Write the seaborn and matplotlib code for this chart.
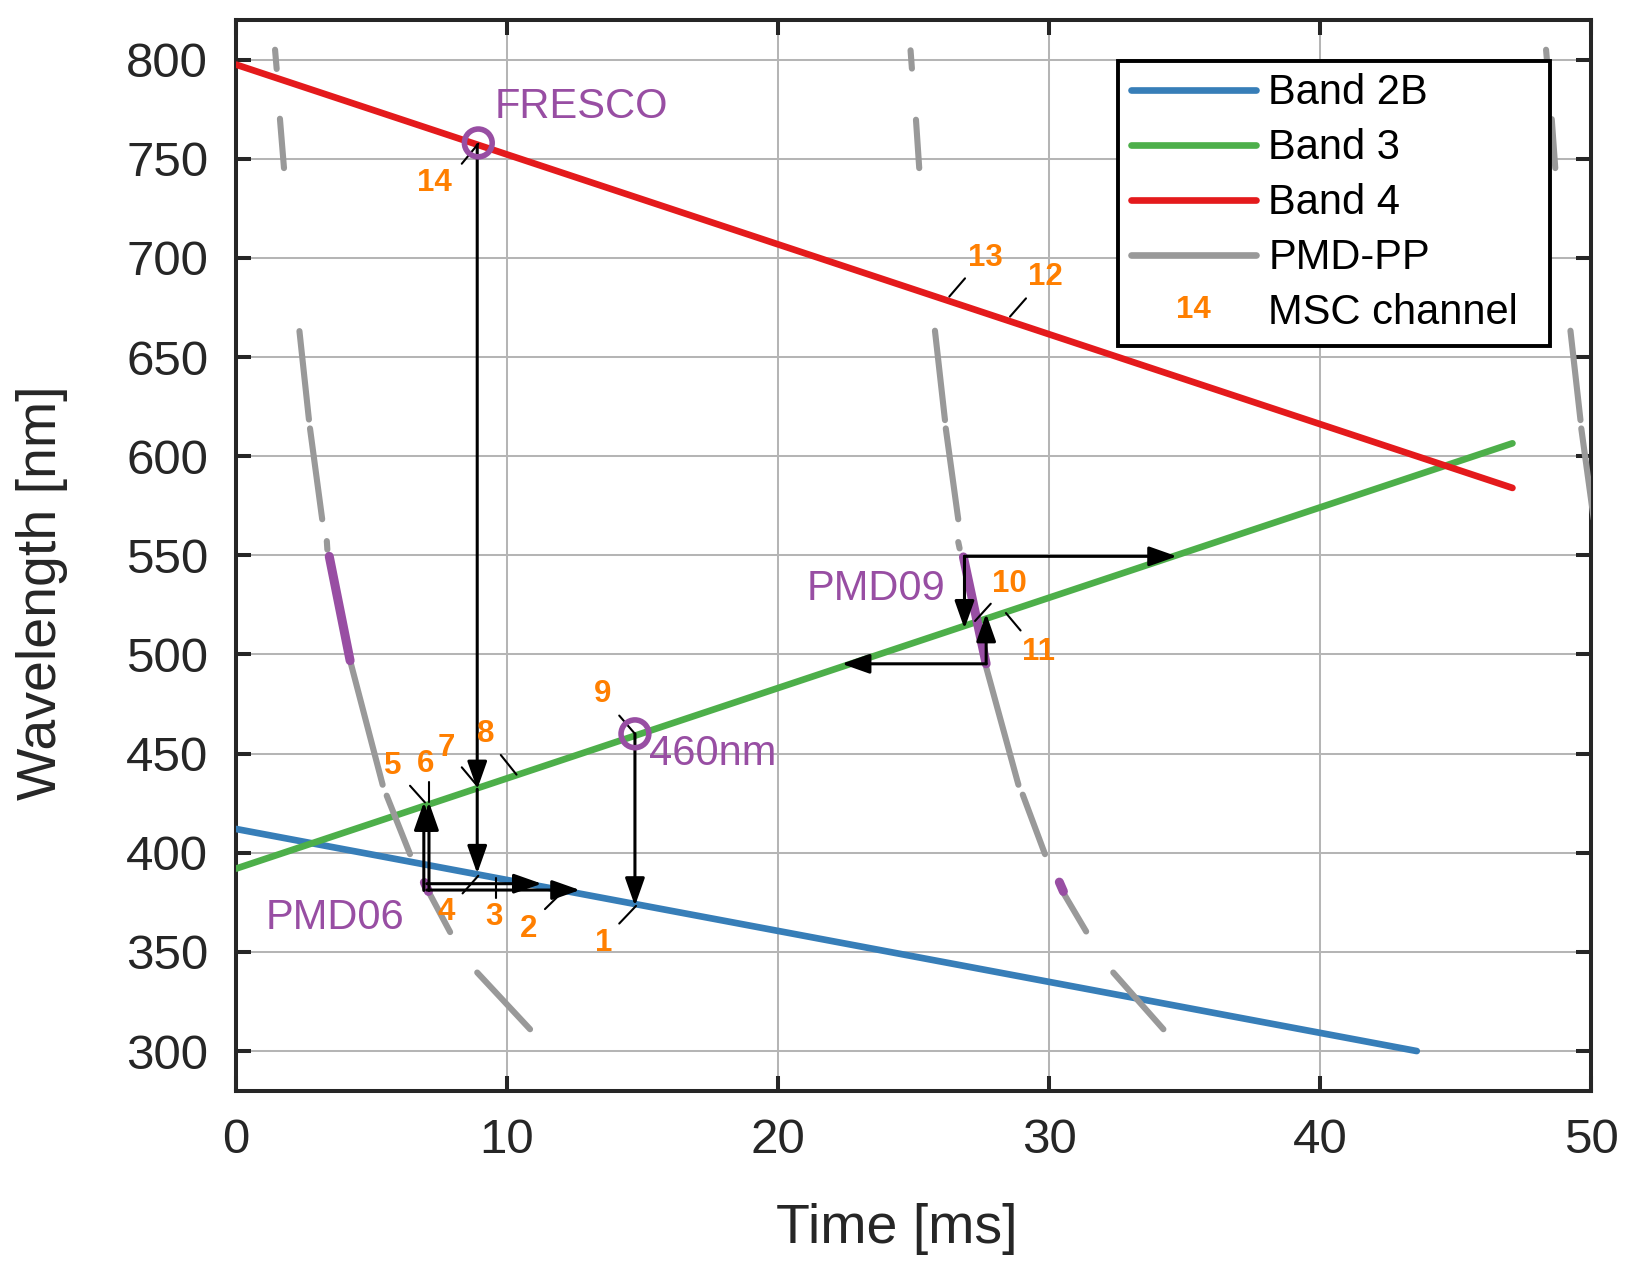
import numpy as np
import pandas as pd
import seaborn as sns
import matplotlib
matplotlib.use("Agg")
import matplotlib.pyplot as plt
from matplotlib.lines import Line2D
from matplotlib.legend_handler import HandlerBase
import matplotlib.text as mtext

# ---------------- data ----------------
band_names = ["Band 2B", "Band 3", "Band 4"]
band2b_time = [0.0, 43.57]
band2b_wl = [412.0, 300.0]
band3_time = [0.0, 47.1]
band3_wl = [392.0, 606.5]
band4_time = [0.0, 47.1]
band4_wl = [797.5, 584.0]

# PMD-PP readout segments (gray): (t0, wl0, t1, wl1)
pmd_segments = [
    (1.44, 805.0, 1.50, 795.3), (1.62, 770.2, 1.77, 745.3),
    (2.34, 663.1, 2.69, 618.5), (2.73, 614.0, 3.18, 568.2),
    (3.35, 557.2, 3.37, 552.9), (4.21, 496.9, 5.41, 434.3),
    (5.56, 428.8, 6.42, 399.3), (7.10, 380.5, 7.90, 360.0),
    (8.90, 339.6, 10.85, 311.0),
    (24.89, 804.7, 24.94, 795.5), (25.09, 769.7, 25.21, 745.3),
    (25.79, 663.3, 26.16, 618.2), (26.19, 614.0, 26.65, 568.2),
    (26.65, 556.7, 26.70, 553.5), (27.68, 493.6, 28.87, 434.3),
    (29.03, 429.3, 29.85, 399.3), (30.52, 380.0, 31.37, 360.3),
    (32.37, 339.6, 34.22, 311.0),
    (48.34, 805.0, 48.40, 795.5), (48.55, 770.0, 48.68, 745.3),
    (49.24, 663.3, 49.61, 618.2), (49.64, 614.0, 50.10, 568.2),
]
# PMD bands used (purple)
pmd_used_segments = [
    (3.44, 549.5, 4.21, 496.9), (6.95, 385.0, 7.10, 380.5),
    (26.84, 549.2, 27.68, 495.3), (30.38, 385.2, 30.53, 380.5),
]
circle_time = [8.94, 14.72]
circle_wl = [758.0, 460.0]

# arrows: (t_start, wl_start, t_tip, wl_tip)
arrows = [
    (8.90, 757.0, 8.90, 432.0), (8.90, 432.0, 8.90, 389.5),
    (14.72, 460.0, 14.72, 373.2),
    (6.93, 381.0, 6.93, 425.5), (7.12, 381.0, 7.12, 425.5),
    (7.04, 384.4, 11.28, 384.4), (7.04, 381.2, 12.69, 381.2),
    (26.88, 549.5, 34.72, 549.5), (26.88, 549.5, 26.88, 513.0),
    (27.68, 495.3, 27.68, 520.6), (27.68, 495.3, 22.35, 495.3),
]

# MSC channels: tick segment and label position
msc_channels = ["1", "2", "3", "4", "5", "6", "7", "8", "9", "10", "11", "12", "13", "14"]
msc_ticks = [
    (14.14, 364.3, 14.76, 373.2), (11.40, 371.6, 11.96, 379.1),
    (9.59, 377.4, 9.59, 387.2), (8.36, 379.5, 8.94, 388.4),
    (6.42, 433.8, 6.97, 425.4), (7.12, 425.4, 7.12, 435.5),
    (8.33, 443.1, 8.90, 433.8), (9.77, 449.3, 10.35, 439.4),
    (14.14, 469.2, 14.72, 460.0), (27.27, 516.9, 27.85, 525.6),
    (28.41, 520.9, 28.95, 512.1), (28.56, 670.4, 29.15, 679.6),
    (26.32, 680.5, 26.90, 689.7), (8.33, 747.5, 8.94, 757.6),
]
msc_label_time = [13.55, 10.81, 9.50, 7.75, 5.80, 7.01, 7.75, 9.23, 13.53, 28.54, 29.60, 29.85, 27.64, 7.31]
msc_label_wl = [354.7, 361.4, 367.7, 370.0, 444.0, 444.8, 453.0, 460.0, 480.0, 535.7, 501.2, 690.2, 700.2, 737.7]

annot_text = ["FRESCO", "460nm", "PMD06", "PMD09"]
annot_time = [9.56, 15.25, 1.10, 21.05]
annot_wl = [776.0, 450.0, 367.0, 533.0]

x_ticks = [0, 10, 20, 30, 40, 50]
y_ticks = [300, 350, 400, 450, 500, 550, 600, 650, 700, 750, 800]

# ---------------- style ----------------
sns.set_theme(style="whitegrid")
plt.rcParams["font.family"] = ["Liberation Sans", "DejaVu Sans"]

pal = sns.color_palette("Set1")
c_blue, c_red, c_green, c_purple, c_orange = pal[1], pal[0], pal[2], pal[3], pal[4]
c_gray = "#999999"
dark = "#262626"

fig = plt.figure(figsize=(16.3, 12.73), dpi=100)
ax = fig.add_axes([0.1448, 0.1432, 0.9761 - 0.1448, 0.9843 - 0.1432])

# bands
bands_df = pd.DataFrame({
    "Time": band2b_time + band3_time + band4_time,
    "Wavelength": band2b_wl + band3_wl + band4_wl,
    "Band": [band_names[0]] * 2 + [band_names[1]] * 2 + [band_names[2]] * 2,
})
sns.lineplot(data=bands_df, x="Time", y="Wavelength", hue="Band",
             palette={band_names[0]: c_blue, band_names[1]: c_green, band_names[2]: c_red},
             estimator=None, sort=False, linewidth=4.8, legend=False, ax=ax, zorder=3)

# PMD-PP segments
rows = []
for i, (t0, w0, t1, w1) in enumerate(pmd_segments):
    rows.append((i, t0, w0))
    rows.append((i, t1, w1))
pmd_df = pd.DataFrame(rows, columns=["seg", "Time", "Wavelength"])
sns.lineplot(data=pmd_df, x="Time", y="Wavelength", units="seg", estimator=None, sort=False,
             color=c_gray, linewidth=4.4, solid_capstyle="round", ax=ax, zorder=4)

rows = []
for i, (t0, w0, t1, w1) in enumerate(pmd_used_segments):
    rows.append((i, t0, w0))
    rows.append((i, t1, w1))
used_df = pd.DataFrame(rows, columns=["seg", "Time", "Wavelength"])
sns.lineplot(data=used_df, x="Time", y="Wavelength", units="seg", estimator=None, sort=False,
             color=c_purple, linewidth=6.5, solid_capstyle="round", ax=ax, zorder=5)

# arrows
for (t0, w0, t1, w1) in arrows:
    ax.annotate("", xy=(t1, w1), xytext=(t0, w0),
                arrowprops=dict(arrowstyle="-|>,head_length=0.85,head_width=0.3",
                                mutation_scale=20, color="black", lw=2.2,
                                shrinkA=0, shrinkB=0),
                zorder=7)

# MSC ticks and labels
for (t0, w0, t1, w1) in msc_ticks:
    ax.plot([t0, t1], [w0, w1], color="black", lw=1.5, zorder=6)
for lab, t, w in zip(msc_channels, msc_label_time, msc_label_wl):
    ax.text(t, w, lab, color=c_orange, fontsize=22.5, fontweight="bold",
            ha="center", va="center", zorder=8)

# circles
sns.scatterplot(x=circle_time, y=circle_wl, ax=ax, s=400, facecolors="none",
                edgecolor=c_purple, linewidth=4.0, marker="o", zorder=9)

for lab, t, w in zip(annot_text, annot_time, annot_wl):
    ax.text(t, w, lab, color=c_purple, fontsize=30, ha="left", va="center", zorder=8)

# axes
ax.set_xlim(0, 50)
ax.set_ylim(280, 820)
ax.set_xticks(x_ticks)
ax.set_yticks(y_ticks)
ax.grid(True, color="#b5b5b5", linewidth=1.45)
ax.set_axisbelow(True)
for sp in ax.spines.values():
    sp.set_color(dark)
    sp.set_linewidth(2.9)
    sp.set_visible(True)
ax.tick_params(axis="both", which="both", direction="in", length=10.8, width=2.9,
               color=dark, labelcolor=dark, labelsize=35.5, pad=20,
               top=True, right=True, bottom=True, left=True)
ax.set_xlabel("Time [ms]", fontsize=40, color=dark)
ax.set_ylabel("Wavelength [nm]", fontsize=40, color=dark)
ax.xaxis.set_label_coords(0.4875, -0.105)
ax.yaxis.set_label_coords(-0.124, 0.465)


class TextHandler(HandlerBase):
    def create_artists(self, legend, orig_handle, xdescent, ydescent, width, height,
                       fontsize, trans):
        t = mtext.Text(x=width / 2 - xdescent, y=height / 2 - ydescent, text="14",
                       color=c_orange, fontsize=22.5, fontweight="bold",
                       ha="center", va="center", transform=trans)
        return [t]


class Dummy:
    pass


handles = [Line2D([], [], color=c_blue, lw=4.8),
           Line2D([], [], color=c_green, lw=4.8),
           Line2D([], [], color=c_red, lw=4.8),
           Line2D([], [], color=c_gray, lw=4.8),
           Dummy()]
labels = band_names + ["PMD-PP", "MSC channel"]
leg = ax.legend(handles, labels, handler_map={Dummy: TextHandler()},
                loc="upper left", bbox_to_anchor=(0.651, 0.5, 0.319, 0.462),
                mode="expand", borderaxespad=0,
                fontsize=30, frameon=True, fancybox=False, framealpha=1,
                edgecolor="black", handlelength=3.0, handletextpad=0.3,
                labelspacing=0.36, borderpad=0.3)
leg.get_frame().set_linewidth(2.8)
leg.set_zorder(20)
for txt in leg.get_texts():
    txt.set_color("black")

fig.savefig("out.png", dpi=100)
